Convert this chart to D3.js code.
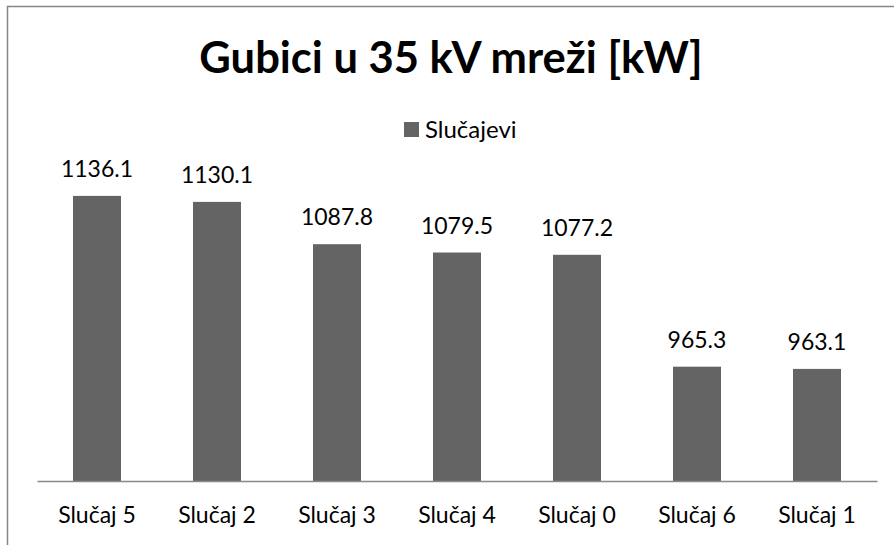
<!DOCTYPE html>
<html><head><meta charset="utf-8">
<script src="https://cdn.jsdelivr.net/npm/d3@7"></script>
<style>html,body{margin:0;padding:0;background:#fff}svg{display:block}</style>
</head><body>
<script>
const categories = ["Slučaj 5","Slučaj 2","Slučaj 3","Slučaj 4","Slučaj 0","Slučaj 6","Slučaj 1"];
const values = [1136.1,1130.1,1087.8,1079.5,1077.2,965.3,963.1];
const seriesName = "Slučajevi";
const titleText = "Gubici u 35 kV mreži [kW]";

const W = 894, H = 545;
const font = "Lato, 'Open Sans', sans-serif";
const svg = d3.select("body").append("svg").attr("width", W).attr("height", H);

svg.append("rect").attr("x", 7.5).attr("y", 6.5).attr("width", W).attr("height", H)
  .attr("fill", "#fff").attr("stroke", "#868686").attr("stroke-width", 1.5);

const x = d3.scaleBand().domain(categories).range([37, 877]).paddingInner(0.6).paddingOuter(0.3);
const y = d3.scaleLinear().domain([851, 1151]).range([481, 181]);

svg.append("text").attr("x", 451).attr("y", 73).attr("text-anchor", "middle")
  .attr("font-family", font).attr("font-weight", "bold").attr("font-size", 43.5).attr("fill", "#000")
  .text(titleText);

// legend
const lg = svg.append("g");
lg.append("rect").attr("x", 404).attr("y", 122).attr("width", 15).attr("height", 15).attr("fill", "#646464");
lg.append("text").attr("x", 425).attr("y", 138).attr("font-family", font).attr("font-size", 24).attr("fill", "#000").text(seriesName);

svg.selectAll("rect.bar").data(values).join("rect").attr("class", "bar")
  .attr("x", (d, i) => x(categories[i])).attr("width", x.bandwidth())
  .attr("y", d => y(d)).attr("height", d => y.range()[0] - y(d)).attr("fill", "#646464");

svg.selectAll("text.lbl").data(values).join("text").attr("class", "lbl")
  .attr("x", (d, i) => x(categories[i]) + x.bandwidth() / 2).attr("y", d => y(d) - 19)
  .attr("text-anchor", "middle").attr("font-family", font).attr("font-size", 23).attr("fill", "#000")
  .text(d => d.toFixed(1));

const ax = svg.append("g").attr("transform", `translate(0,${y.range()[0]})`)
  .call(d3.axisBottom(x).tickSize(0).tickPadding(26));
ax.select(".domain").attr("stroke", "#888").attr("stroke-width", 1.5);
ax.selectAll("text").attr("font-family", font).attr("font-size", 23).attr("fill", "#000");
</script>
</body></html>
